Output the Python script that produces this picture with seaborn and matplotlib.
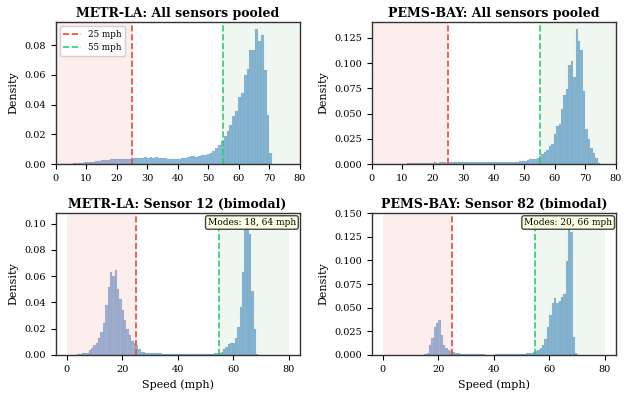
"""
Speed distributions: METR-LA vs PEMS-BAY, pooled and single bimodal sensors.
"""

import numpy as np
import pandas as pd
import matplotlib

matplotlib.use("Agg")
import matplotlib.pyplot as plt
import seaborn as sns

COLORS = {
    "congested": "#4c72b0",
    "free":      "#1f77b4",
    "slow":      "#e74c3c",
    "fast":      "#2ecc71",
    "spine":     "#333333",
}

plt.rcParams.update({
    "font.family":      "serif",
    "font.serif":       ["DejaVu Serif"],
    "axes.edgecolor":   COLORS["spine"],
    "axes.linewidth":   1.0,
    "xtick.labelsize":  7,
    "ytick.labelsize":  7,
    "axes.labelsize":   8,
    "axes.titlesize":   9,
    "axes.titleweight": "bold",
})

# ─────────────────────────────────────────────────────
# DATA (density per bin)
# ─────────────────────────────────────────────────────

# METR-LA, all sensors: 76 bins over 0–71 mph
la_all_range = (0.0, 71.0)
la_all_density = [
    0, 0, 0, 0, 0, 0,
    0.0006, 0.0007, 0.0008, 0.0010,
    0.0013, 0.0014, 0.0015, 0.0017,
    0.0020, 0.0022, 0.0025, 0.0027,
    0.0030, 0.0032, 0.0033, 0.0034, 0.0035, 0.0035, 0.0035, 0.0036, 0.0036,
    0.0040, 0.0038, 0.0042, 0.0044, 0.0045, 0.0044, 0.0046, 0.0043, 0.0045,
    0.0044, 0.0043,
    0.0038, 0.0036, 0.0036, 0.0036, 0.0037, 0.0037, 0.0038, 0.0040, 0.0045,
    0.0052, 0.0053, 0.0050, 0.0052, 0.0058,
    0.0060, 0.0070, 0.0076, 0.0090, 0.0105, 0.0125, 0.0155,
    0.0187, 0.0225, 0.0260, 0.0320, 0.0360, 0.0450, 0.0480, 0.0600, 0.0640,
    0.0770, 0.0770, 0.0910, 0.0830, 0.0870, 0.0630, 0.0330, 0.0075,
]

# PEMS-BAY, all sensors: 94 bins over 0.4–75.6 mph
bay_all_range = (0.4, 75.6)
bay_all_density = [
    0, 0, 0, 0, 0, 0, 0, 0, 0, 0, 0, 0, 0, 0,
    0.0007, 0.0007, 0.0007, 0.0007, 0.0007, 0.0007, 0.0007, 0.0007, 0.0007,
    0.0007, 0.0007,
    0.0020, 0.0008, 0.0020, 0.0020, 0.0020, 0.0015,
    0.0018, 0.0018, 0.0018, 0.0018, 0.0018, 0.0018, 0.0018, 0.0018, 0.0018,
    0.0018, 0.0018, 0.0018, 0.0018, 0.0018, 0.0018, 0.0018, 0.0018, 0.0018,
    0.0018, 0.0018, 0.0018, 0.0018, 0.0018, 0.0018, 0.0018, 0.0018, 0.0018,
    0.0018,
    0.0025, 0.0030, 0.0035, 0.0030, 0.0040, 0.0045, 0.0050, 0.0050, 0.0060,
    0.0075, 0.0095, 0.0120, 0.0140, 0.0180, 0.0200, 0.0300, 0.0380, 0.0400,
    0.0550, 0.0680, 0.0740, 0.0980, 0.1020, 0.0860, 0.1340, 0.1220, 0.1130,
    0.0720, 0.0350, 0.0250, 0.0160, 0.0110, 0.0056, 0.0013, 0,
]

# METR-LA sensor 12: 77 bins over 3.7–69.15 mph
la_s12_range = (3.7, 69.15)
la_s12_density = [
    0.0008, 0.0008, 0.0013, 0.0013, 0.0018, 0.0038, 0.0050, 0.0076, 0.0089,
    0.0127, 0.0177, 0.0240, 0.0380, 0.0520, 0.0630, 0.0600, 0.0645, 0.0506,
    0.0430, 0.0340, 0.0266, 0.0200, 0.0150, 0.0110, 0.0089, 0.0076, 0.0043,
    0.0025, 0.0025,
    0.0015, 0.0016, 0.0014, 0.0015, 0.0013, 0.0012, 0.0012, 0.0010,
    0.0008, 0.0007, 0.0008, 0.0006, 0.0008, 0.0008, 0.0007, 0.0008, 0.0006,
    0.0008, 0.0007, 0.0008, 0.0008, 0.0007, 0.0008, 0.0008, 0.0009, 0.0008,
    0.0008, 0.0009,
    0.0008, 0.0013, 0.0013, 0.0018, 0.0025, 0.0043, 0.0063, 0.0081, 0.0094,
    0.0089, 0.0127, 0.0215, 0.0367, 0.0630, 0.0980, 0.1030, 0.0920, 0.0490,
    0.0195, 0.0010,
]

# PEMS-BAY sensor 82: 66 bins over 14.9–71.0 mph
bay_s82_range = (14.9, 71.0)
bay_s82_density = [
    0.0010, 0.0025, 0.0107, 0.0178, 0.0300, 0.0340, 0.0367, 0.0210, 0.0107,
    0.0071, 0.0053, 0.0040, 0.0032, 0.0025, 0.0025, 0.0015,
    0.0011, 0.0011, 0.0012, 0.0011, 0.0010, 0.0011, 0.0011, 0.0007, 0.0007,
    0.0010,
    0, 0, 0, 0,
    0.0007, 0.0010, 0.0010, 0.0010, 0.0011, 0.0010, 0.0010, 0.0010, 0.0010,
    0.0014, 0.0014, 0.0014, 0.0014,
    0.0025, 0.0025, 0.0025, 0.0030, 0.0040, 0.0053, 0.0071, 0.0107, 0.0167,
    0.0300, 0.0427, 0.0550, 0.0605, 0.0545, 0.0570, 0.0616, 0.0640, 0.0995,
    0.1430, 0.1300, 0.0195, 0.0020, 0.0005,
]

thresholds = [25, 55]
threshold_labels = ["25 mph", "55 mph"]
modes_s12 = (18, 64)
modes_s82 = (20, 66)


# ─────────────────────────────────────────────────────
# PLOTTING
# ─────────────────────────────────────────────────────

def draw_hist(ax, bin_range, density, title, modes=None, full_axis=True,
              legend=False):
    edges = np.linspace(bin_range[0], bin_range[1], len(density) + 1)
    centers = (edges[:-1] + edges[1:]) / 2
    df = pd.DataFrame({
        "speed":   centers,
        "density": density,
        "zone":    np.where(centers < thresholds[0], "congested", "free"),
    })

    ax.axvspan(0, thresholds[0], color=COLORS["slow"], alpha=0.09, lw=0)
    ax.axvspan(thresholds[1], 80, color="green", alpha=0.06, lw=0)

    # bins passed as list: seaborn compares bins == "auto" when weights are set
    sns.histplot(data=df, x="speed", weights="density", hue="zone",
                 bins=edges.tolist(), stat="count",
                 palette={"congested": COLORS["congested"],
                          "free": COLORS["free"]},
                 alpha=0.5, linewidth=0.3,
                 edgecolor=(0.12, 0.3, 0.5, 0.12),
                 legend=False, ax=ax)

    ax.axvline(thresholds[0], color=COLORS["slow"], ls="--", lw=1.2,
               label=threshold_labels[0])
    ax.axvline(thresholds[1], color=COLORS["fast"], ls="--", lw=1.2,
               label=threshold_labels[1])

    ax.set_title(title, pad=4)
    ax.set_ylabel("Density")
    if full_axis:
        ax.set_xlim(0, 80)
        ax.set_xticks(range(0, 81, 10))
        ax.set_xlabel("")
    else:
        ax.set_xticks(range(0, 81, 20))
        ax.set_xlabel("Speed (mph)")

    if modes is not None:
        ax.text(0.985, 0.965, f"Modes: {modes[0]}, {modes[1]} mph",
                transform=ax.transAxes, ha="right", va="top", fontsize=6.5,
                bbox=dict(boxstyle="round,pad=0.25", facecolor="lightyellow",
                          edgecolor="#333333", alpha=0.9))
    if legend:
        ax.legend(loc="upper left", fontsize=6.3, framealpha=0.9,
                  handlelength=2.0)


fig, axes = plt.subplots(2, 2, figsize=(6.24, 3.94), dpi=100)
fig.subplots_adjust(left=0.089, right=0.987, top=0.944, bottom=0.099,
                    wspace=0.295, hspace=0.345)

draw_hist(axes[0, 0], la_all_range, la_all_density,
          "METR-LA: All sensors pooled", legend=True)
draw_hist(axes[0, 1], bay_all_range, bay_all_density,
          "PEMS-BAY: All sensors pooled")
draw_hist(axes[1, 0], la_s12_range, la_s12_density,
          "METR-LA: Sensor 12 (bimodal)", modes=modes_s12, full_axis=False)
draw_hist(axes[1, 1], bay_s82_range, bay_s82_density,
          "PEMS-BAY: Sensor 82 (bimodal)", modes=modes_s82, full_axis=False)

axes[0, 1].yaxis.set_major_locator(plt.MultipleLocator(0.025))
axes[1, 1].yaxis.set_major_locator(plt.MultipleLocator(0.025))

fig.savefig("out.png", dpi=100)
plt.close(fig)
